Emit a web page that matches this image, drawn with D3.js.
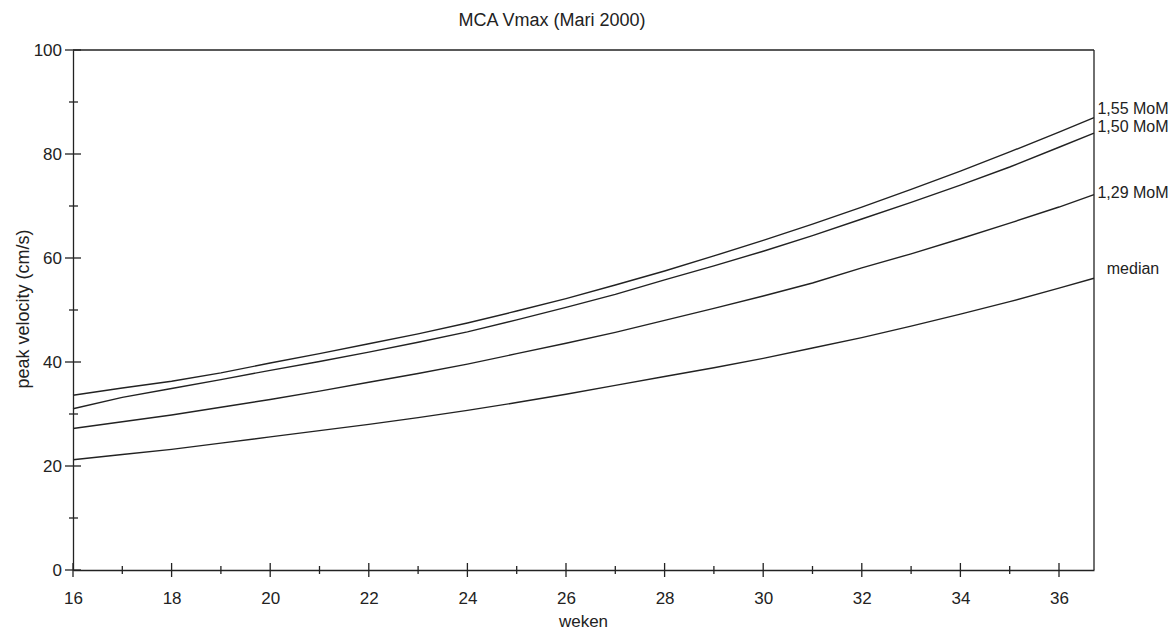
<!DOCTYPE html>
<html>
<head>
<meta charset="utf-8">
<script src="https://cdn.jsdelivr.net/npm/d3@7"></script>
<style>
  html, body { margin: 0; padding: 0; background: #fff; }
  svg text { font-family: "Liberation Sans", Arial, sans-serif; fill: #222; }
</style>
</head>
<body>
<svg id="chart" width="1172" height="633"></svg>
<script>
// ---- data ----
const weeks   = [16,17,18,19,20,21,22,23,24,25,26,27,28,29,30,31,32,33,34,35,36,36.71];
const median  = [21.2,22.2,23.2,24.4,25.6,26.8,28.0,29.3,30.7,32.2,33.8,35.5,37.2,38.9,40.7,42.7,44.7,46.9,49.2,51.6,54.2,56.1];
const mom129  = [27.2,28.5,29.8,31.3,32.8,34.4,36.1,37.8,39.6,41.6,43.6,45.7,48.0,50.3,52.7,55.2,58.1,60.8,63.7,66.7,69.8,72.2];
const mom150  = [31.0,33.2,34.9,36.6,38.4,40.1,41.9,43.8,45.8,48.1,50.5,53.0,55.8,58.5,61.3,64.3,67.5,70.7,74.0,77.5,81.3,84.0];
const mom155  = [33.6,35.0,36.3,37.9,39.8,41.6,43.5,45.4,47.5,49.8,52.2,54.8,57.5,60.4,63.4,66.5,69.8,73.2,76.7,80.4,84.2,87.0];
const seriesNames  = ["1,55 MoM", "1,50 MoM", "1,29 MoM", "median"];
const labelValues  = [88.8, 85.2, 72.6, 57.9];
const xMajorTicks  = [16,18,20,22,24,26,28,30,32,34,36];
const xMinorTicks  = [17,19,21,23,25,27,29,31,33,35];
const yMajorTicks  = [0,20,40,60,80,100];
const yMinorTicks  = [10,30,50,70,90];
const titleText = "MCA Vmax (Mari 2000)";
const xTitle = "weken";
const yTitle = "peak velocity (cm/s)";

// ---- layout ----
const svg = d3.select("#chart");
const L = 73, R = 1094, T = 50, B = 570;
const x = d3.scaleLinear().domain([16, 36.71]).range([L, R]);
const y = d3.scaleLinear().domain([0, 100]).range([B, T]);
const ink = "#222";

// frame (top & right)
svg.append("line").attr("x1", L).attr("x2", R).attr("y1", T).attr("y2", T)
  .attr("stroke", ink).attr("stroke-width", 1.3);
svg.append("line").attr("x1", R).attr("x2", R).attr("y1", T).attr("y2", B)
  .attr("stroke", ink).attr("stroke-width", 1.3);

// y axis
const yAxis = svg.append("g").attr("transform", `translate(${L},0)`)
  .call(d3.axisLeft(y).tickValues(yMajorTicks).tickSize(0).tickPadding(11).tickFormat(d3.format("d")));
yAxis.select(".domain").attr("stroke", ink).attr("stroke-width", 1.3);
yAxis.selectAll("text").attr("font-size", 17).style("font-family", '"Liberation Sans", Arial, sans-serif').attr("fill", ink);
const yt = svg.append("g");
yt.selectAll(".ymaj").data(yMajorTicks).join("line")
  .attr("x1", L - 8).attr("x2", L + 8).attr("y1", d => y(d)).attr("y2", d => y(d))
  .attr("stroke", ink).attr("stroke-width", 1.3);
yt.selectAll(".ymin").data(yMinorTicks).join("line")
  .attr("x1", L - 4).attr("x2", L + 5).attr("y1", d => y(d)).attr("y2", d => y(d))
  .attr("stroke", ink).attr("stroke-width", 1.3);

// x axis
const xAxis = svg.append("g").attr("transform", `translate(0,${B})`)
  .call(d3.axisBottom(x).tickValues(xMajorTicks).tickSize(0).tickPadding(22).tickFormat(d3.format("d")));
xAxis.select(".domain").attr("stroke", ink).attr("stroke-width", 1.3);
xAxis.selectAll("text").attr("font-size", 17).style("font-family", '"Liberation Sans", Arial, sans-serif').attr("fill", ink);
const xt = svg.append("g");
xt.selectAll(".xmaj").data(xMajorTicks).join("line")
  .attr("x1", d => x(d)).attr("x2", d => x(d)).attr("y1", B - 7).attr("y2", B + 7)
  .attr("stroke", ink).attr("stroke-width", 1.3);
xt.selectAll(".xmin").data(xMinorTicks).join("line")
  .attr("x1", d => x(d)).attr("x2", d => x(d)).attr("y1", B - 4).attr("y2", B + 4)
  .attr("stroke", ink).attr("stroke-width", 1.3);

// lines
const series = [mom155, mom150, mom129, median];
const line = d3.line().x((d, i) => x(weeks[i])).y(d => y(d));
svg.append("g").selectAll("path").data(series).join("path")
  .attr("d", d => line(d))
  .attr("fill", "none").attr("stroke", ink).attr("stroke-width", 1.4);

// series labels
svg.append("g").selectAll("text").data(seriesNames).join("text")
  .attr("x", R + 39).attr("y", (d, i) => y(labelValues[i]))
  .attr("text-anchor", "middle").attr("dominant-baseline", "central")
  .attr("font-size", 16).text(d => d);

// titles
svg.append("text").attr("x", 552).attr("y", 20).attr("text-anchor", "middle")
  .attr("dominant-baseline", "central").attr("font-size", 18).text(titleText);
svg.append("text").attr("x", (L + R) / 2).attr("y", 621).attr("text-anchor", "middle")
  .attr("dominant-baseline", "central").attr("font-size", 17).text(xTitle);
svg.append("text").attr("transform", `translate(23,309) rotate(-90)`)
  .attr("text-anchor", "middle").attr("dominant-baseline", "central")
  .attr("font-size", 18).text(yTitle);
</script>
</body>
</html>
